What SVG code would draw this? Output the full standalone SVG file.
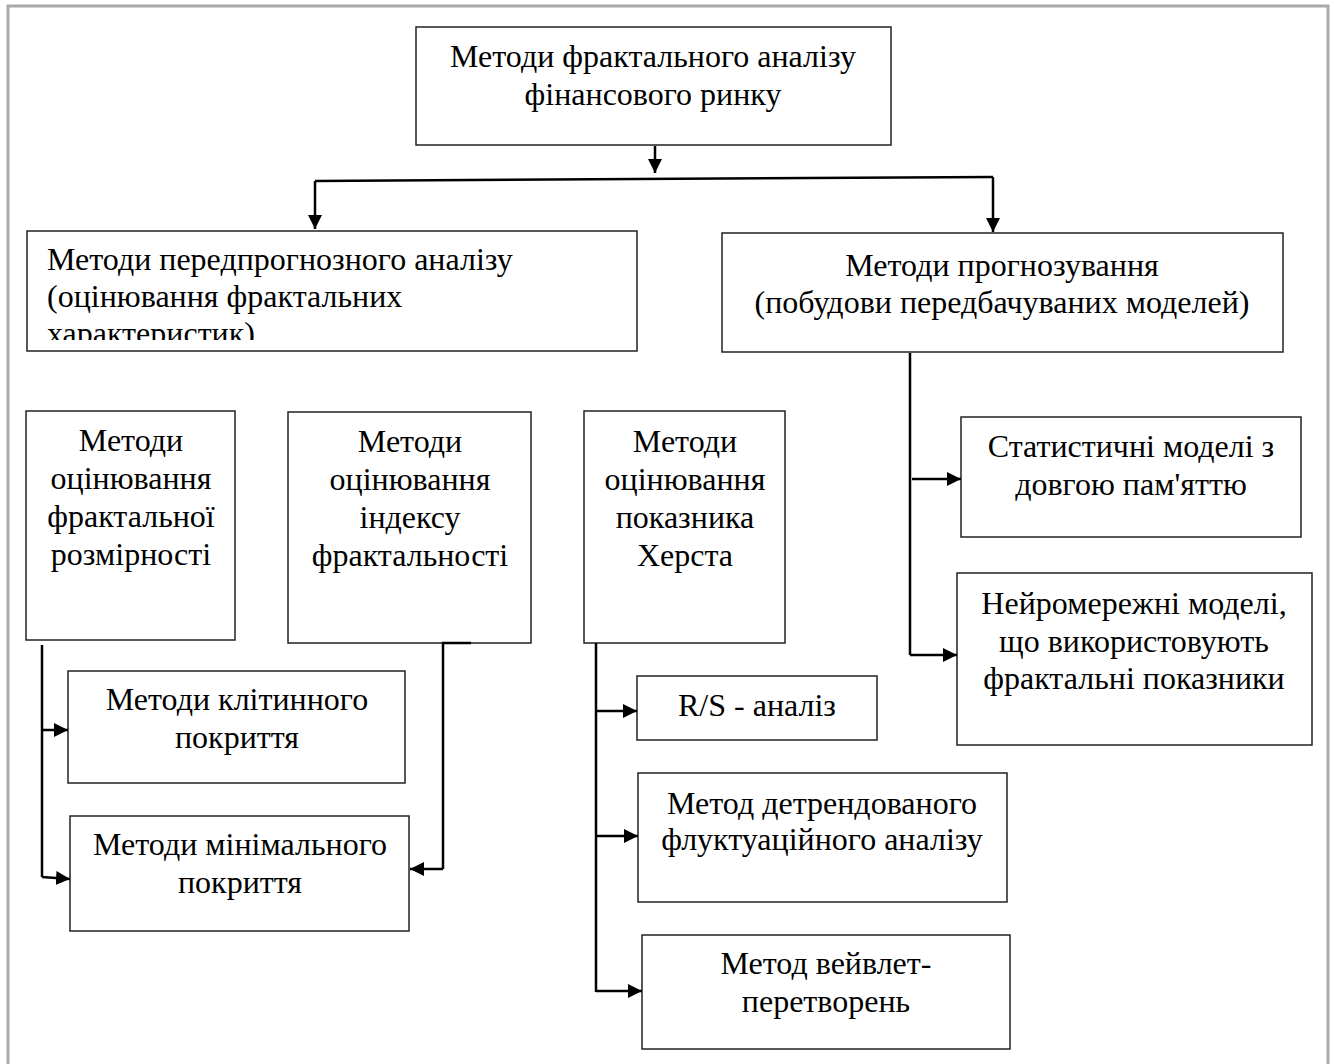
<svg xmlns="http://www.w3.org/2000/svg" width="1334" height="1064" viewBox="0 0 1334 1064">
<style>
.box{fill:#fff;stroke:#222;stroke-width:1.5}
.t{font-family:"Liberation Serif","Times New Roman",serif;font-size:32px;fill:#000;text-anchor:middle}
.tl{text-anchor:start}
.c{fill:none;stroke:#000;stroke-width:2.5}
.a{fill:none;stroke:#000;stroke-width:2.5;marker-end:url(#ah)}
</style>
<defs>
<marker id="ah" markerUnits="userSpaceOnUse" markerWidth="16" markerHeight="16" refX="14" refY="7" orient="auto">
<path d="M0,0 L14,7 L0,14 Z" fill="#000"/>
</marker>
<clipPath id="clipL"><rect x="28" y="232" width="608" height="108"/></clipPath>
</defs>
<rect x="8" y="6" width="1320" height="1070" fill="#fff" stroke="#aaa" stroke-width="3"/>

<g id="n-root">
<rect class="box" x="416" y="27" width="475" height="118"/>
<text class="t" x="653" y="67">Методи фрактального аналізу</text>
<text class="t" x="653" y="105">фінансового ринку</text>
</g>
<g id="n-pre">
<rect class="box" x="27" y="231" width="610" height="120"/>
<g clip-path="url(#clipL)">
<text class="t tl" x="47" y="270">Методи передпрогнозного аналізу</text>
<text class="t tl" x="47" y="307">(оцінювання фрактальних</text>
<text class="t tl" x="47" y="344">характеристик)</text>
</g>
</g>
<g id="n-forecast">
<rect class="box" x="722" y="233" width="561" height="119"/>
<text class="t" x="1002" y="276">Методи прогнозування</text>
<text class="t" x="1002" y="313">(побудови передбачуваних моделей)</text>
</g>
<g id="n-dim">
<rect class="box" x="26" y="411" width="209" height="229"/>
<text class="t" x="131" y="451">Методи</text>
<text class="t" x="131" y="489">оцінювання</text>
<text class="t" x="131" y="527">фрактальної</text>
<text class="t" x="131" y="565">розмірності</text>
</g>
<g id="n-index">
<rect class="box" x="288" y="412" width="243" height="231"/>
<text class="t" x="410" y="452">Методи</text>
<text class="t" x="410" y="490">оцінювання</text>
<text class="t" x="410" y="528">індексу</text>
<text class="t" x="410" y="566">фрактальності</text>
</g>
<g id="n-hurst">
<rect class="box" x="584" y="411" width="201" height="232"/>
<text class="t" x="685" y="452">Методи</text>
<text class="t" x="685" y="490">оцінювання</text>
<text class="t" x="685" y="528">показника</text>
<text class="t" x="685" y="566">Херста</text>
</g>
<g id="n-cell">
<rect class="box" x="68" y="671" width="337" height="112"/>
<text class="t" x="237" y="710">Методи клітинного</text>
<text class="t" x="237" y="748">покриття</text>
</g>
<g id="n-min">
<rect class="box" x="70" y="816" width="339" height="115"/>
<text class="t" x="240" y="855">Методи мінімального</text>
<text class="t" x="240" y="893">покриття</text>
</g>
<g id="n-rs">
<rect class="box" x="637" y="676" width="240" height="64"/>
<text class="t" x="757" y="716">R/S - аналіз</text>
</g>
<g id="n-dfa">
<rect class="box" x="638" y="773" width="369" height="129"/>
<text class="t" x="822" y="814">Метод детрендованого</text>
<text class="t" x="822" y="850">флуктуаційного аналізу</text>
</g>
<g id="n-wave">
<rect class="box" x="642" y="935" width="368" height="114"/>
<text class="t" x="826" y="974">Метод вейвлет-</text>
<text class="t" x="826" y="1012">перетворень</text>
</g>
<g id="n-stat">
<rect class="box" x="961" y="417" width="340" height="120"/>
<text class="t" x="1131" y="457">Статистичні моделі з</text>
<text class="t" x="1131" y="495">довгою пам'яттю</text>
</g>
<g id="n-neural">
<rect class="box" x="957" y="573" width="355" height="172"/>
<text class="t" x="1134" y="614">Нейромережні моделі,</text>
<text class="t" x="1134" y="652">що використовують</text>
<text class="t" x="1134" y="689">фрактальні показники</text>
</g>

<g id="connectors">
<path class="a" d="M655,146 V173"/>
<path class="c" d="M315,181 L993,177"/>
<path class="a" d="M315,181 V229"/>
<path class="a" d="M993,177 V232"/>
<path class="c" d="M42,645 V877"/>
<path class="a" d="M42,730 H68"/>
<path class="a" d="M42,877 L70,879"/>
<path class="c" d="M471,643 H443 V869"/>
<path class="a" d="M443,869 H410"/>
<path class="c" d="M596,643 V992"/>
<path class="a" d="M596,711 H637"/>
<path class="a" d="M596,836 H638"/>
<path class="a" d="M596,991 H642"/>
<path class="c" d="M910,353 V655"/>
<path class="a" d="M912,479 H961"/>
<path class="a" d="M910,655 H957"/>
</g>
</svg>
